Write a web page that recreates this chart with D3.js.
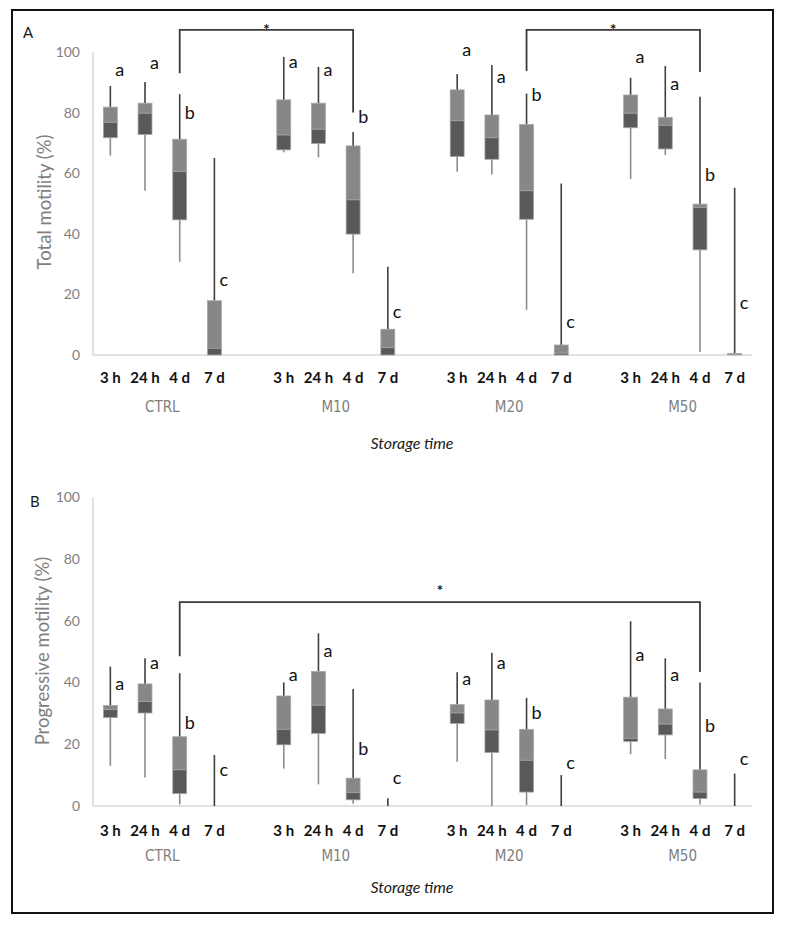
<!DOCTYPE html>
<html>
<head>
<meta charset="utf-8">
<script src="https://cdn.jsdelivr.net/npm/d3@7/dist/d3.min.js"></script>
<style>
  html, body { margin: 0; padding: 0; background: #fff; }
  svg { display: block; }
</style>
</head>
<body>
<svg id="chart" width="786" height="927"></svg>
<script>
// ---------- DATA ----------
const groups = ["CTRL", "M10", "M20", "M50"];
const times = ["3 h", "24 h", "4 d", "7 d"];
const yTicks = [0, 20, 40, 60, 80, 100];

// Panel A: Total motility (%) — order: CTRL(3h,24h,4d,7d), M10(...), M20(...), M50(...)
const totalMin    = [65.8, 54.2, 30.8, 0,    66.9, 65.2, 27.0, 0,    60.5, 59.6, 14.9, 0,    58.1, 66.0, 1.0,  0];
const totalQ1     = [71.7, 72.8, 44.6, 0,    67.7, 69.8, 39.9, 0,    65.5, 64.6, 44.8, 0,    75.0, 68.0, 34.7, 0];
const totalMedian = [76.8, 79.8, 60.5, 2.2,  72.6, 74.5, 51.2, 2.4,  77.3, 71.7, 54.2, 0.6,  79.8, 75.8, 48.7, 0.2];
const totalQ3     = [81.8, 83.1, 71.2, 17.9, 84.2, 83.1, 69.0, 8.5,  87.5, 79.2, 76.1, 3.3,  85.8, 78.4, 49.8, 0.5];
const totalMax    = [88.8, 90.1, 86.1, 65.0, 98.4, 95.1, 73.6, 29.1, 92.7, 95.7, 86.3, 56.6, 91.5, 95.4, 85.2, 55.2];
const totalLetters = ["a","a","b","c", "a","a","b","c", "a","a","b","c", "a","a","b","c"];
const totalLetterY = [94, 96.4, 80, 24.8, 96.7, 94, 78.5, 14.2, 100.7, 91.7, 85.8, 11, 98.3, 89.4, 59.4, 17.2];
const totalBrackets = [
  { from: "CTRL|4 d", to: "M10|4 d", top: 107.3, leftEnd: 93, rightEnd: 80, star: 108.3 },
  { from: "M20|4 d",  to: "M50|4 d", top: 107.3, leftEnd: 93.7, rightEnd: 93.4, star: 108.3 }
];

// Panel B: Progressive motility (%)
const progMin    = [13.0, 9.2,  0.5,  0,    12.1, 7.0,  0.7, 0,   14.3, 0,    0.3,  0,    16.8, 15.2, 0.5,  0];
const progQ1     = [28.6, 30.1, 4.0,  0,    19.8, 23.5, 2.0, 0,   26.7, 17.3, 4.5,  0,    20.9, 23.0, 2.4,  0];
const progMedian = [31.2, 33.8, 11.7, 0,    24.8, 32.6, 4.3, 0,   30.1, 24.6, 14.8, 0,    21.9, 26.5, 4.5,  0];
const progQ3     = [32.5, 39.5, 22.4, 0,    35.6, 43.5, 9.0, 0,   32.8, 34.3, 24.8, 0,    35.2, 31.4, 11.7, 0];
const progMax    = [45.1, 47.8, 43.0, 16.5, 40.0, 55.9, 37.9, 2.5, 43.3, 49.6, 35.0, 10.0, 59.8, 47.8, 40.0, 10.5];
const progLetters = ["a","a","b","c", "a","a","b","c", "a","a","b","c", "a","a","b","c"];
const progLetterY = [39.7, 46.5, 27, 11.6, 42.4, 50.3, 18.4, 9.2, 41.1, 46.5, 30.3, 14.1, 49, 42.4, 26, 15.2];
const progBrackets = [
  { from: "CTRL|4 d", to: "M50|4 d", top: 66, leftEnd: 48.5, rightEnd: 43.4, star: 70.5 }
];

// ---------- DRAWING ----------
const svg = d3.select("#chart");
const FONT = "Lato, 'Open Sans', 'DejaVu Sans', sans-serif";
const NARROW = "'Liberation Sans Narrow', 'DejaVu Sans Condensed', Lato, sans-serif";

// outer frame
svg.append("rect")
  .attr("x", 12).attr("y", 10).attr("width", 761).attr("height", 903)
  .attr("fill", "none").attr("stroke", "#111").attr("stroke-width", 2);

// slot keys with gaps between groups
const slots = [];
groups.forEach((g, gi) => {
  times.forEach(t => slots.push(g + "|" + t));
  if (gi < groups.length - 1) slots.push("gap" + gi);
});
const x = d3.scaleBand().domain(slots).range([93, 752]).padding(0);
const bw = x.bandwidth();
const boxW = bw * 0.4;
const cx = k => x(k) + bw / 2;

function drawPanel(p) {
  const g = svg.append("g");
  const y = d3.scaleLinear().domain([0, 100]).range(p.yRange);

  const rows = [];
  groups.forEach((grp, gi) => times.forEach((t, ti) => {
    const i = gi * times.length + ti;
    rows.push({ key: grp + "|" + t, min: p.min[i], q1: p.q1[i], med: p.med[i], q3: p.q3[i], max: p.max[i],
                letter: p.letters[i], ly: p.letterY[i] });
  }));

  // axes
  g.append("line").attr("x1", x.range()[0]).attr("x2", x.range()[0])
    .attr("y1", y(100)).attr("y2", y(0)).attr("stroke", "#d9d9d9").attr("stroke-width", 1.5);
  g.append("line").attr("x1", x.range()[0]).attr("x2", x.range()[1])
    .attr("y1", y(0)).attr("y2", y(0)).attr("stroke", "#d9d9d9").attr("stroke-width", 1.5);

  g.selectAll(".ytick").data(yTicks).enter().append("text")
    .attr("x", 80).attr("y", d => y(d)).attr("dy", "0.35em")
    .attr("text-anchor", "end").attr("font-family", FONT).attr("font-size", 14)
    .attr("fill", "#7f7f7f").text(d => d);

  // whiskers
  g.selectAll(".wlo").data(rows).enter().append("line")
    .attr("x1", d => cx(d.key)).attr("x2", d => cx(d.key))
    .attr("y1", d => y(d.q1)).attr("y2", d => y(d.min))
    .attr("stroke", "#8c8c8c").attr("stroke-width", 1.6);
  g.selectAll(".whi").data(rows).enter().append("line")
    .attr("x1", d => cx(d.key)).attr("x2", d => cx(d.key))
    .attr("y1", d => y(d.q3)).attr("y2", d => y(d.max))
    .attr("stroke", "#3f3f3f").attr("stroke-width", 1.6);

  // upper box (median - Q3)
  g.selectAll(".bup").data(rows.filter(d => d.q3 > d.med)).enter().append("rect")
    .attr("x", d => cx(d.key) - boxW / 2).attr("width", boxW)
    .attr("y", d => y(d.q3)).attr("height", d => y(d.med) - y(d.q3))
    .attr("fill", "#878787").attr("stroke", "#a3a3a3").attr("stroke-width", 0.8);
  // lower box (Q1 - median)
  g.selectAll(".blo").data(rows.filter(d => d.med > d.q1)).enter().append("rect")
    .attr("x", d => cx(d.key) - boxW / 2).attr("width", boxW)
    .attr("y", d => y(d.med)).attr("height", d => y(d.q1) - y(d.med))
    .attr("fill", "#595959").attr("stroke", "#a3a3a3").attr("stroke-width", 0.8);

  // letters
  g.selectAll(".letter").data(rows).enter().append("text")
    .attr("x", d => cx(d.key) + 5).attr("y", d => y(d.ly)).attr("dy", "0.35em")
    .attr("font-family", FONT).attr("font-size", 18).attr("fill", "#111")
    .text(d => d.letter);

  // brackets
  p.brackets.forEach(b => {
    const x1 = cx(b.from), x2 = cx(b.to);
    g.append("path")
      .attr("d", `M${x1},${y(b.leftEnd)}V${y(b.top)}H${x2}V${y(b.rightEnd)}`)
      .attr("fill", "none").attr("stroke", "#3a3a3a").attr("stroke-width", 1.8);
    g.append("text").attr("x", (x1 + x2) / 2).attr("y", y(b.star)).attr("dy", "0.55em")
      .attr("text-anchor", "middle").attr("font-family", FONT).attr("font-size", 15)
      .attr("font-weight", "bold").attr("fill", "#111").text("*");
  });

  // time tick labels
  g.selectAll(".tlab").data(rows).enter().append("text")
    .attr("x", d => cx(d.key)).attr("y", p.tickY).attr("dy", "0.35em")
    .attr("text-anchor", "middle").attr("font-family", FONT).attr("font-size", 15)
    .attr("font-weight", "bold").attr("fill", "#111")
    .text(d => d.key.split("|")[1]);

  // group labels
  g.selectAll(".glab").data(groups).enter().append("text")
    .attr("x", d => (cx(d + "|" + times[0]) + cx(d + "|" + times[times.length - 1])) / 2)
    .attr("y", p.groupY).attr("dy", "0.35em").attr("text-anchor", "middle")
    .attr("font-family", NARROW).attr("font-size", 15).attr("fill", "#7f7f7f")
    .text(d => d);

  // x title
  g.append("text").attr("x", 412).attr("y", p.titleY).attr("dy", "0.35em")
    .attr("text-anchor", "middle").attr("font-family", FONT).attr("font-size", 16)
    .attr("font-style", "italic").attr("fill", "#1a1a1a").text("Storage time");

  // y title
  g.append("text").attr("transform", `translate(${p.yTitleX},${p.yTitleY}) rotate(-90)`)
    .attr("dy", "0.35em").attr("text-anchor", "middle").attr("font-family", FONT)
    .attr("font-size", 18.5).attr("fill", "#7f7f7f").text(p.yTitle);

  // panel letter
  g.append("text").attr("x", p.panelX).attr("y", p.panelY)
    .attr("font-family", FONT).attr("font-size", 15).attr("fill", "#1a1a1a").text(p.panel);
}

drawPanel({
  min: totalMin, q1: totalQ1, med: totalMedian, q3: totalQ3, max: totalMax,
  letters: totalLetters, letterY: totalLetterY, brackets: totalBrackets,
  yRange: [355, 52], tickY: 378, groupY: 407, titleY: 443,
  yTitle: "Total motility (%)", yTitleX: 45, yTitleY: 202,
  panel: "A", panelX: 23, panelY: 38
});

drawPanel({
  min: progMin, q1: progQ1, med: progMedian, q3: progQ3, max: progMax,
  letters: progLetters, letterY: progLetterY, brackets: progBrackets,
  yRange: [806, 497], tickY: 831, groupY: 856, titleY: 887,
  yTitle: "Progressive motility (%)", yTitleX: 43, yTitleY: 651,
  panel: "B", panelX: 30, panelY: 507
});
</script>
</body>
</html>
